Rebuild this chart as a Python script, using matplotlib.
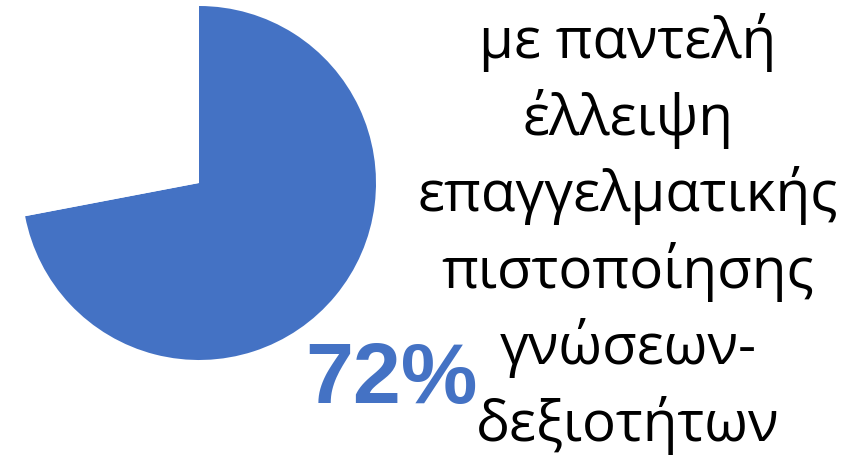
import matplotlib
matplotlib.use("Agg")
import matplotlib.pyplot as plt

# Data
shares = [72, 28]
share_label = "72%"
lines = ["με παντελή", "έλλειψη", "επαγγελματικής", "πιστοποίησης", "γνώσεων-", "δεξιοτήτων"]

BLUE = "#4472C4"
W, H = 856, 461
fig = plt.figure(figsize=(W / 100, H / 100), dpi=100)
fig.patch.set_facecolor("white")

# text layer in pixel coordinates
tax = fig.add_axes([0, 0, 1, 1])
tax.set_xlim(0, W)
tax.set_ylim(H, 0)
tax.axis("off")

# pie layer
cx, cy, r = 199, 183, 177
pax = fig.add_axes([(cx - r) / W, (H - cy - r) / H, 2 * r / W, 2 * r / H])
pax.pie(shares, colors=[BLUE, "white"], startangle=90, counterclock=False,
        radius=1, wedgeprops=dict(linewidth=0))
pax.set_xlim(-1, 1)
pax.set_ylim(-1, 1)
pax.axis("off")

fam = ["Open Sans", "DejaVu Sans"]
renderer = fig.canvas.get_renderer()
probe = tax.text(0, 0, lines[2], fontsize=36, family=fam)
wpx = probe.get_window_extent(renderer).width
probe.remove()
fs = 36 * 420 / wpx

for i, ln in enumerate(lines):
    tax.text(628, 58 + 76.5 * i, ln, fontsize=fs, family=fam, ha="center", va="baseline", color="black")

tax.text(391, 403, share_label, fontsize=62, family=["Liberation Sans", "DejaVu Sans"],
         fontweight="bold", color=BLUE, ha="center", va="baseline")

fig.savefig("out.png", dpi=100, facecolor="white")
